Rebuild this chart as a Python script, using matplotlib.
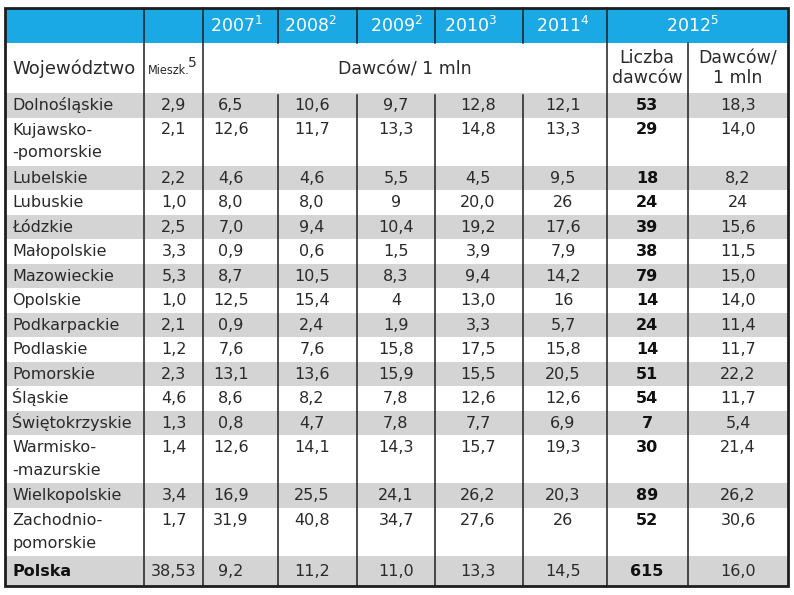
import matplotlib
matplotlib.use("Agg")
import matplotlib.pyplot as plt
from matplotlib.patches import Rectangle

plt.rcParams['font.family'] = ['DejaVu Sans']
plt.rcParams['mathtext.default'] = 'regular'

# dane tabeli
names = ['Dolnośląskie', 'Kujawsko-\n-pomorskie', 'Lubelskie', 'Lubuskie', 'Łódzkie',
         'Małopolskie', 'Mazowieckie', 'Opolskie', 'Podkarpackie', 'Podlaskie',
         'Pomorskie', 'Śląskie', 'Świętokrzyskie', 'Warmisko-\n-mazurskie',
         'Wielkopolskie', 'Zachodnio-\npomorskie']
mieszk = ['2,9', '2,1', '2,2', '1,0', '2,5', '3,3', '5,3', '1,0', '2,1', '1,2', '2,3', '4,6', '1,3', '1,4', '3,4', '1,7']
d2007 = ['6,5', '12,6', '4,6', '8,0', '7,0', '0,9', '8,7', '12,5', '0,9', '7,6', '13,1', '8,6', '0,8', '12,6', '16,9', '31,9']
d2008 = ['10,6', '11,7', '4,6', '8,0', '9,4', '0,6', '10,5', '15,4', '2,4', '7,6', '13,6', '8,2', '4,7', '14,1', '25,5', '40,8']
d2009 = ['9,7', '13,3', '5,5', '9', '10,4', '1,5', '8,3', '4', '1,9', '15,8', '15,9', '7,8', '7,8', '14,3', '24,1', '34,7']
d2010 = ['12,8', '14,8', '4,5', '20,0', '19,2', '3,9', '9,4', '13,0', '3,3', '17,5', '15,5', '12,6', '7,7', '15,7', '26,2', '27,6']
d2011 = ['12,1', '13,3', '9,5', '26', '17,6', '7,9', '14,2', '16', '5,7', '15,8', '20,5', '12,6', '6,9', '19,3', '20,3', '26']
liczba = ['53', '29', '18', '24', '39', '38', '79', '14', '24', '14', '51', '54', '7', '30', '89', '52']
per_mln = ['18,3', '14,0', '8,2', '24', '15,6', '11,5', '15,0', '14,0', '11,4', '11,7', '22,2', '11,7', '5,4', '21,4', '26,2', '30,6']
total = ['Polska', '38,53', '9,2', '11,2', '11,0', '13,3', '14,5', '615', '16,0']

years = ['2007$^{1}$', '2008$^{2}$', '2009$^{2}$', '2010$^{3}$', '2011$^{4}$', '2012$^{5}$']

# uklad (piksele)
edges = [5, 144, 203, 278, 357, 435, 523, 607, 688, 788]
centers = [12, 174, 231, 312, 396, 478, 563, 647, 738]
blue = '#1aa9e5'
gray = '#d4d4d4'
txt = '#2a2a2a'
line = '#1e1e1e'

fig = plt.figure(figsize=(7.94, 5.95), dpi=100)
ax = fig.add_axes([0, 0, 1, 1])
ax.set_xlim(0, 794)
ax.set_ylim(595, 0)
ax.axis('off')

top, h1, h2 = 8, 35, 50
y0 = top + h1 + h2
unit = 24.5
lsp = 23
base = 17

# naglowek 1
ax.add_patch(Rectangle((edges[0], top), edges[-1] - edges[0], h1, color=blue, lw=0))
ycols = [237, 310, 396, 471, 563, 692]
for lab, x in zip(years, ycols):
    ax.text(x, top + 24, lab, color='white', fontsize=12.5, ha='center', va='baseline')

# naglowek 2
hy = top + h1 + h2 / 2
ax.text(12, hy + 6, 'Województwo', fontsize=13, color=txt, ha='left', va='baseline')
ax.text(148, hy + 6, 'Mieszk.', fontsize=9, color=txt, ha='left', va='baseline', fontstretch='condensed')
ax.text(188, hy - 1, '5', fontsize=10, color=txt, ha='left', va='baseline')
ax.text((edges[2] + edges[7]) / 2, hy + 6, 'Dawców/ 1 mln', fontsize=12.5, color=txt, ha='center', va='baseline')
ax.text(647, hy, 'Liczba\ndawców', fontsize=12.5, color=txt, ha='center', va='center', linespacing=1.1)
ax.text(738, hy, 'Dawców/\n1 mln', fontsize=12.5, color=txt, ha='center', va='center', linespacing=1.1)

# wiersze
cols = [mieszk, d2007, d2008, d2009, d2010, d2011, liczba, per_mln]
y = y0
for i, name in enumerate(names):
    parts = name.split('\n')
    h = unit if len(parts) == 1 else unit * 1.96
    if i % 2 == 0:
        ax.add_patch(Rectangle((edges[0], y), edges[-1] - edges[0], h, color=gray, lw=0))
    for k, p in enumerate(parts):
        ax.text(centers[0], y + base + k * lsp, p, fontsize=11.5, color=txt, ha='left', va='baseline')
    for j, c in enumerate(cols):
        ax.text(centers[j + 1], y + base, c[i], fontsize=11.5, color=txt if j != 6 else '#111111',
                ha='center', va='baseline', fontweight='bold' if j == 6 else 'normal')
    y += h

hp = 30
ax.add_patch(Rectangle((edges[0], y), edges[-1] - edges[0], hp, color=gray, lw=0))
ax.text(centers[0], y + 20, total[0], fontsize=11.5, color='#111111', ha='left', va='baseline', fontweight='bold')
for j, v in enumerate(total[1:]):
    ax.text(centers[j + 1], y + 20, v, fontsize=11.5, color=txt if j != 6 else '#111111',
            ha='center', va='baseline', fontweight='bold' if j == 6 else 'normal')
bottom = y + hp

# linie pionowe
for k, x in enumerate(edges[1:-1], start=1):
    if x == 688:
        ax.plot([x, x], [top + h1, bottom], color=line, lw=1.1)
    elif 3 <= k <= 6:
        ax.plot([x, x], [top, top + h1], color=line, lw=1.1)
        ax.plot([x, x], [y0 + 2, bottom], color=line, lw=1.1)
    else:
        ax.plot([x, x], [top, bottom], color=line, lw=1.1)

ax.add_patch(Rectangle((edges[0], top), edges[-1] - edges[0], bottom - top, fill=False, ec=line, lw=2))

fig.savefig('out.png', dpi=100)
